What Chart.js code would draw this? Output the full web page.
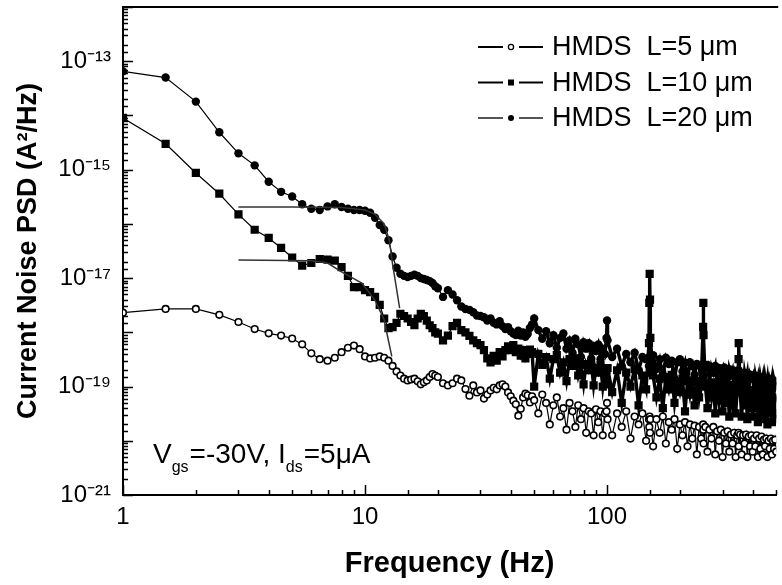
<!DOCTYPE html>
<html>
<head>
<meta charset="utf-8">
<script src="https://cdn.jsdelivr.net/npm/chart.js@4.4.1/dist/chart.umd.min.js"></script>
<style>
  html, body { margin: 0; padding: 0; background: #fff; overflow: hidden; }
  #wrap { position: relative; width: 782px; height: 585px; }
</style>
</head>
<body>
<div id="wrap"><canvas id="psd" width="782" height="585"></canvas></div>
<script>
// frequency grid (Hz), shared by the three measured curves
const freq = [
  1,1.5,2,2.5,3,3.5,4,4.5,5,5.5,6,6.5,7,7.5,8,8.5,9,9.5,10,10.5,
  11,11.5,12,12.5,13,13.5,14,14.5,15,15.5,16,16.5,17,17.5,18,18.5,19,19.5,
  20,21,22,23,24,25,26,27,28,29,30,31,32,33,34,35,36,37,38,39,
  40,41,42,43,44,45,46,47,48,49,
  50,52,54,56,58,60,62,64,66,68,70,72,74,76,78,80,82,84,86,88,90,92,94,96,98,
  99.5,100,100.5,105,110,115,120,125,130,135,140,145,
  149,149.5,150,150.5,151,
  155,160,165,170,175,180,185,190,195,200,205,210,215,220,225,230,235,240,245,
  249.5,250,250.5,
  255,260,265,270,275,280,285,290,295,300,305,310,315,320,325,330,335,340,345,
  349.5,350,
  355,360,365,370,375,380,385,390,395,400,405,410,415,420,425,430,435,440,445,450,
  455,460,465,470,475,480,485,490,495,500
];

// L = 5 um (open circles)
const psdL5 = [
  2.3e-18,2.7e-18,2.7e-18,2.1e-18,1.55e-18,1.15e-18,9.6e-19,8.7e-19,7.7e-19,6e-19,
  4.1e-19,3.2e-19,3e-19,3.4e-19,4.3e-19,5.2e-19,5.7e-19,4.9e-19,3.6e-19,3.3e-19,
  3.4e-19,3.6e-19,3.4e-19,3e-19,2.4e-19,1.9e-19,1.6e-19,1.4e-19,1.3e-19,1.35e-19,
  1.4e-19,1.25e-19,1.1e-19,1.2e-19,1.3e-19,1.5e-19,1.7e-19,1.6e-19,
  1.5e-19,1.15e-19,1.05e-19,1.15e-19,1.4e-19,1.3e-19,9e-20,6.8e-20,1.05e-19,7.8e-20,
  8.5e-20,6e-20,7.1e-20,8.5e-20,9.5e-20,8.9e-20,1.05e-19,1.1e-19,1e-19,7.8e-20,
  6.6e-20,5.5e-20,4.7e-20,2.9e-20,3.9e-20,6.3e-20,7.4e-20,6.9e-20,5.1e-20,6.6e-20,
  5.6e-20,3.2e-20,7.1e-20,5e-20,2e-20,4.5e-20,6.3e-20,2.8e-20,4e-20,1.6e-20,
  5e-20,3.5e-20,1.8e-20,4.5e-20,2.5e-20,4e-20,1.4e-20,3.5e-20,3.2e-20,1.26e-20,
  3.8e-20,2.2e-20,3.5e-20,1.26e-20,3.2e-20,
  3.5e-20,5e-20,2.5e-20,1.26e-20,3.2e-20,1.8e-20,3.5e-20,1.1e-20,2.8e-20,2e-20,3.2e-20,1e-20,
  2.5e-20,1.8e-20,2.8e-20,1.4e-20,2.5e-20,
  7.9e-21,2.5e-20,1.4e-20,2.8e-20,8.9e-21,2.2e-20,1.6e-20,2.5e-20,7.1e-21,2e-20,
  1.26e-20,2.2e-20,7.9e-21,2e-20,1.1e-20,1.9e-20,5.6e-21,1.8e-20,1.1e-20,
  2e-20,1.6e-20,8.9e-21,
  1.8e-20,6.3e-21,1.6e-20,1.1e-20,1.8e-20,5.6e-21,1.5e-20,1e-20,1.6e-20,5e-21,
  1.4e-20,8.9e-21,1.5e-20,6.3e-21,1.3e-20,8.9e-21,1.4e-20,5e-21,1.26e-20,
  1.4e-20,7.9e-21,
  1.3e-20,5.6e-21,1.26e-20,8.9e-21,1.3e-20,5e-21,1.2e-20,7.9e-21,1.26e-20,6.3e-21,
  1.1e-20,7.9e-21,1.26e-20,5e-21,1.1e-20,7.1e-21,1.2e-20,5.6e-21,1.05e-20,7.9e-21,
  1.1e-20,5e-21,1e-20,7.1e-21,1.1e-20,5.6e-21,1e-20,7.1e-21,1.05e-20,6.3e-21
];

// L = 10 um (filled squares)
const psdL10 = [
  9e-15,3e-15,8.7e-16,3.6e-16,1.5e-16,7.8e-17,5.5e-17,3.6e-17,2.4e-17,1.7e-17,
  1.9e-17,2.25e-17,2.2e-17,2.1e-17,1.6e-17,1.1e-17,6.8e-18,6.8e-18,6e-18,5.5e-18,
  4.5e-18,3.2e-18,1.8e-18,1.2e-18,1.25e-18,1.5e-18,2.2e-18,2e-18,1.8e-18,1.55e-18,
  1.35e-18,1.8e-18,2.2e-18,2e-18,1.65e-18,1.35e-18,1.2e-18,1e-18,
  9.5e-19,7.1e-19,8.7e-19,1.3e-18,1.5e-18,1.1e-18,1e-18,8.6e-19,7.1e-19,6.3e-19,
  5.8e-19,4.7e-19,3.3e-19,2.8e-19,3.7e-19,3e-19,4.3e-19,3.6e-19,4.7e-19,5.5e-19,
  4.7e-19,5.8e-19,4.3e-19,5e-19,3.7e-19,4.7e-19,3.3e-19,4e-19,4.8e-19,4.3e-19,
  1e-19,4e-19,2.5e-19,3.5e-19,1.4e-19,3.2e-19,3.8e-19,1.8e-19,2.8e-19,1.26e-19,
  3.2e-19,2.4e-19,3.3e-19,1.6e-19,2.5e-19,1.1e-19,2.6e-19,2e-19,2.8e-19,1.05e-19,
  2.2e-19,1.8e-19,2.5e-19,1e-19,2.1e-19,
  2e-19,1.1e-19,2.2e-19,7.9e-20,2e-19,5e-20,1.8e-19,1e-19,2.1e-19,4.5e-20,1.6e-19,8.9e-20,
  6.3e-19,3.5e-18,1.2e-17,4e-18,7.9e-19,
  1.6e-19,6.3e-20,1.4e-19,4e-20,1.5e-19,8.9e-20,1.65e-19,5e-20,1.26e-19,7.9e-20,
  1.4e-19,3.5e-20,1.26e-19,7.1e-20,1.3e-19,4.5e-20,1.2e-19,6.3e-20,1.26e-19,
  1.26e-18,3.5e-18,8.9e-19,
  1e-19,4e-20,1.1e-19,6.3e-20,1.2e-19,3.2e-20,1.05e-19,5.6e-20,1.1e-19,3.5e-20,
  1e-19,5e-20,1.07e-19,2.8e-20,8.9e-20,5e-20,1e-19,3.2e-20,8.3e-20,
  3.2e-19,6.3e-19,
  7.9e-20,2.8e-20,8.9e-20,4.5e-20,8.9e-20,2.5e-20,7.9e-20,4e-20,8.3e-20,2.8e-20,
  7.6e-20,4e-20,7.9e-20,2.2e-20,7.1e-20,3.5e-20,7.6e-20,2.5e-20,6.6e-20,3.5e-20,
  7.1e-20,2e-20,6.3e-20,3.2e-20,6.6e-20,2.2e-20,6e-20,3.2e-20,6.3e-20,2.5e-20
];

// L = 20 um (filled circles)
const psdL20 = [
  6.5e-14,5e-14,1.8e-14,4.9e-15,2e-15,1.2e-15,6e-16,3.9e-16,3.2e-16,2.3e-16,
  1.9e-16,1.8e-16,2.1e-16,2.3e-16,2.05e-16,1.9e-16,1.8e-16,1.8e-16,1.75e-16,1.6e-16,
  1.3e-16,9.5e-17,7.8e-17,5e-17,2.5e-17,1.55e-17,1.2e-17,1.1e-17,1.05e-17,1.1e-17,
  1.15e-17,1.1e-17,1e-17,9.6e-18,9.2e-18,8.8e-18,8.1e-18,7.1e-18,
  6.5e-18,4.5e-18,6e-18,5e-18,3.9e-18,3e-18,2.7e-18,2.6e-18,2.35e-18,2.05e-18,
  2e-18,1.9e-18,1.65e-18,1.8e-18,1.5e-18,1.4e-18,1.6e-18,1.3e-18,1.15e-18,1.25e-18,
  1.05e-18,9.5e-19,8.9e-19,1.07e-18,8.7e-19,1e-18,8.3e-19,9.3e-19,1.2e-18,1.4e-18,
  1.8e-18,1.1e-18,7.6e-19,1.05e-18,6.3e-19,8.9e-19,5.2e-19,7.9e-19,9.5e-19,5e-19,
  7.1e-19,4.2e-19,7.6e-19,6e-19,3.5e-19,6.6e-19,5e-19,6.3e-19,3.3e-19,5.6e-19,
  4.5e-19,6e-19,3.2e-19,5e-19,4e-19,
  7.9e-19,1.65e-18,7.1e-19,3.5e-19,5e-19,2.4e-19,4e-19,2.8e-19,4.2e-19,2e-19,3.5e-19,3.2e-19,
  2.4e-19,3.5e-19,3.2e-19,1.8e-19,3.3e-19,
  3.8e-19,2.1e-19,3.2e-19,1.6e-19,3.4e-19,2.6e-19,3e-19,1.4e-19,2.8e-19,3.2e-19,
  1.9e-19,2.75e-19,1.26e-19,2.8e-19,2.4e-19,1.65e-19,2.6e-19,2.5e-19,1.1e-19,
  2.4e-19,2.6e-19,1.6e-19,
  2.2e-19,2.5e-19,1.2e-19,2.3e-19,1.8e-19,2.4e-19,1e-19,2.2e-19,2e-19,1.4e-19,
  2.25e-19,1.9e-19,8.9e-20,2.1e-19,1.6e-19,2e-19,1.1e-19,1.9e-19,1.65e-19,
  2e-19,1.1e-19,
  1.8e-19,1.5e-19,7.9e-20,1.8e-19,1.26e-19,1.75e-19,8.9e-20,1.65e-19,1.4e-19,1.6e-19,
  7.6e-20,1.6e-19,1.2e-19,1.5e-19,7.1e-20,1.5e-19,1.1e-19,1.45e-19,6.3e-20,1.4e-19,
  1e-19,1.4e-19,7.9e-20,1.3e-19,1.07e-19,1.4e-19,6.3e-20,1.26e-19,1e-19,1.26e-19
];

// fitted curves (thin lines)
const fitL20Freq = [3, 5, 8, 10, 11, 12, 12.6, 13, 13.5, 13.9];
const fitL20Psd  = [2.05e-16, 2.05e-16, 2e-16, 1.8e-16, 1.5e-16, 1e-16, 5e-17, 1.8e-17, 6.3e-18, 2.8e-18];
const fitL10Freq = [3, 6, 7, 8, 9.7, 11, 12, 12.5, 12.9];
const fitL10Psd  = [2.15e-17, 2.1e-17, 1.9e-17, 1.3e-17, 8.1e-18, 3.9e-18, 1.7e-18, 7e-19, 3.6e-19];

const seriesLabels = ['HMDS  L=5 \u03bcm', 'HMDS  L=10 \u03bcm', 'HMDS  L=20 \u03bcm'];

const xLabelValues = [1, 10, 100];
const xLabelText = ['1', '10', '100'];
const yLabelValues = [1e-21, 1e-19, 1e-17, 1e-15, 1e-13];
const yLabelText = ['10\u207b\u00b2\u00b9', '10\u207b\u00b9\u2079', '10\u207b\u00b9\u2077', '10\u207b\u00b9\u2075', '10\u207b\u00b9\u00b3'];

const FONT = '"Liberation Sans", Arial, Helvetica, sans-serif';

function pts(xs, ys) { return xs.map((x, i) => ({ x: x, y: ys[i] })); }
function sameLog(a, b) { return Math.abs(Math.log10(a) - Math.log10(b)) < 1e-6; }
function isDecade(v) { const l = Math.log10(v); return Math.abs(l - Math.round(l)) < 1e-6; }
function labelFor(v, values, texts) {
  const i = values.findIndex(t => sameLog(t, v));
  return i < 0 ? '' : texts[i];
}
// the dense high-frequency part of the traces reads as a solid black band
const denseWidth = c => (c.p0.parsed.x >= 30 ? 3.4 : 1.2);

// frame, inward ticks, legend and annotation
const decor = {
  id: 'decor',
  afterDraw(chart) {
    const { ctx, chartArea: a, scales: { x, y } } = chart;
    ctx.save();
    ctx.strokeStyle = '#000';
    ctx.lineWidth = 2;
    ctx.beginPath(); ctx.moveTo(a.left, a.top); ctx.lineTo(a.right + 2, a.top); ctx.stroke();

    ctx.lineWidth = 1.5;
    ctx.beginPath();
    x.ticks.forEach(t => {
      const px = Math.round(x.getPixelForValue(t.value)) + 0.5;
      const len = isDecade(t.value) ? 10 : 5;
      ctx.moveTo(px, a.bottom); ctx.lineTo(px, a.bottom - len);
    });
    y.ticks.forEach(t => {
      const py = Math.round(y.getPixelForValue(t.value)) + 0.5;
      const len = isDecade(t.value) ? 10 : 5;
      ctx.moveTo(a.left, py); ctx.lineTo(a.left + len, py);
    });
    ctx.stroke();

    // legend
    ctx.font = '27px ' + FONT;
    ctx.textBaseline = 'middle';
    ctx.fillStyle = '#000';
    seriesLabels.forEach((lab, i) => {
      const ly = 47 + 35.5 * i;
      ctx.strokeStyle = i === 2 ? '#555' : '#000';
      ctx.lineWidth = 2;
      ctx.beginPath();
      ctx.moveTo(478, ly); ctx.lineTo(503, ly);
      ctx.moveTo(519, ly); ctx.lineTo(543, ly);
      ctx.stroke();
      ctx.strokeStyle = '#000';
      ctx.beginPath();
      if (i === 0) {
        ctx.lineWidth = 1.3; ctx.arc(511, ly, 2.6, 0, Math.PI * 2); ctx.stroke();
      } else if (i === 1) {
        ctx.fillRect(508, ly - 3, 6, 6);
      } else {
        ctx.arc(511, ly, 3, 0, Math.PI * 2); ctx.fill();
      }
      ctx.fillText(lab, 552, ly + 1);
    });

    // operating point annotation
    let tx = 153;
    const base = 463;
    ctx.textBaseline = 'alphabetic';
    const parts = [['V', 28, 0], ['gs', 16, 9], ['=-30V, I', 28, 0], ['ds', 16, 9], ['=5\u03bcA', 28, 0]];
    parts.forEach(p => {
      ctx.font = p[1] + 'px ' + FONT;
      ctx.fillText(p[0], tx, base + p[2]);
      tx += ctx.measureText(p[0]).width + (p[2] ? 1 : 0);
    });
    ctx.restore();
  }
};

new Chart(document.getElementById('psd'), {
  type: 'scatter',
  data: {
    datasets: [
      { label: 'fit L=20', data: pts(fitL20Freq, fitL20Psd), showLine: true, pointRadius: 0,
        borderColor: '#333', borderWidth: 1.5, order: 0 },
      { label: 'fit L=10', data: pts(fitL10Freq, fitL10Psd), showLine: true, pointRadius: 0,
        borderColor: '#333', borderWidth: 1.5, order: 0 },
      { label: seriesLabels[0], data: pts(freq, psdL5), showLine: true, borderColor: '#000', borderWidth: 1.2,
        pointStyle: 'circle', pointRadius: 3.3, pointBorderWidth: 1.6, pointBorderColor: '#000',
        pointBackgroundColor: '#fff', order: 1 },
      { label: seriesLabels[1], data: pts(freq, psdL10), showLine: true, borderColor: '#000', borderWidth: 1.2,
        segment: { borderWidth: denseWidth },
        pointStyle: 'rect', pointRadius: 5.8, pointBorderWidth: 0, pointBackgroundColor: '#000', order: 2 },
      { label: seriesLabels[2], data: pts(freq, psdL20), showLine: true, borderColor: '#000', borderWidth: 1.2,
        segment: { borderWidth: denseWidth },
        pointStyle: 'circle', pointRadius: 4.2, pointBorderWidth: 0, pointBackgroundColor: '#000', order: 3 }
    ]
  },
  options: {
    responsive: false,
    animation: false,
    events: [],
    layout: { padding: { top: 7, right: 0, left: 0, bottom: 0 } },
    plugins: { legend: { display: false }, tooltip: { enabled: false } },
    scales: {
      x: {
        type: 'logarithmic', min: 1, max: 500,
        grid: { display: false, drawTicks: false },
        border: { display: true, color: '#000', width: 2 },
        ticks: {
          autoSkip: false, maxRotation: 0, padding: 8, color: '#000',
          font: { family: FONT, size: 24 },
          callback: v => labelFor(v, xLabelValues, xLabelText)
        },
        title: { display: true, text: 'Frequency (Hz)', color: '#000',
          font: { family: FONT, size: 29, weight: 'bold' }, padding: { top: 0, bottom: 4 } },
        afterFit: s => { s.height = 90; s.paddingLeft = 0; s.paddingRight = 0; }
      },
      y: {
        type: 'logarithmic', min: 1e-21, max: 1e-12,
        grid: { display: false, drawTicks: false },
        border: { display: true, color: '#000', width: 2 },
        ticks: {
          autoSkip: false, padding: 12, color: '#000',
          font: { family: FONT, size: 24 },
          callback: v => labelFor(v, yLabelValues, yLabelText)
        },
        title: { display: true, text: 'Current Noise PSD (A\u00b2/Hz)', color: '#000',
          font: { family: FONT, size: 27, weight: 'bold' }, padding: { top: 12, bottom: 0 } },
        afterFit: s => { s.width = 123; s.paddingTop = 0; s.paddingBottom = 0; }
      }
    }
  },
  plugins: [decor]
});
</script>
</body>
</html>
